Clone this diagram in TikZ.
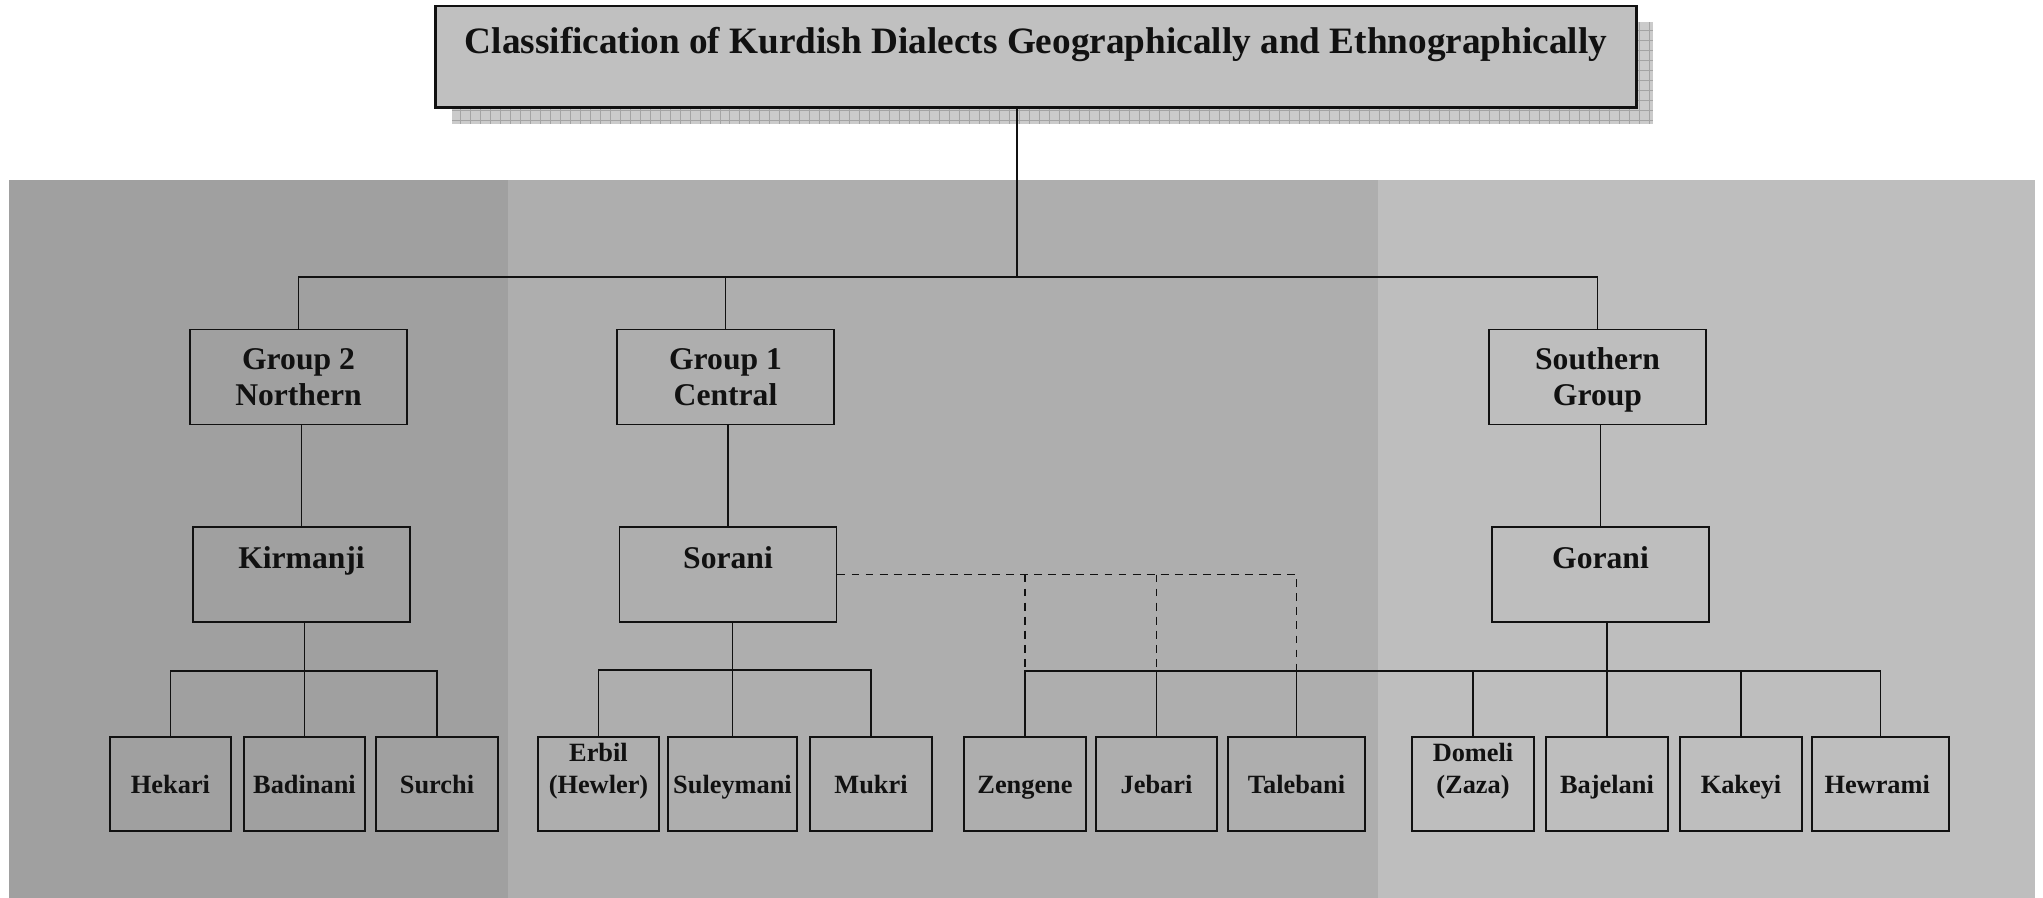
\documentclass[tikz,border=0pt]{standalone}
\usepackage{fontspec}
\setmainfont{Liberation Serif}
\usepackage{xcolor}
\usepackage{tikz}
\usetikzlibrary{positioning}
\definecolor{bandN}{HTML}{A0A0A0}
\definecolor{bandC}{HTML}{AEAEAE}
\definecolor{bandS}{HTML}{BEBEBE}
\definecolor{titlegray}{HTML}{C0C0C0}
\definecolor{shadegray}{HTML}{CBCBCB}
\definecolor{shadeline}{HTML}{A4A4A4}
\definecolor{ink}{HTML}{111111}
\newcommand{\TitleFont}{\bfseries\fontsize{21.2}{25}\selectfont}
\newcommand{\GroupFont}{\bfseries\fontsize{18}{20.5}\selectfont}
\newcommand{\DialFont}{\bfseries\fontsize{15}{18}\selectfont}
\tikzset{
  every node/.style={text=ink},
  wire/.style={draw=ink, line width=1.1pt},
  wiredash/.style={draw=ink, line width=1.1pt, dash pattern=on 4.5pt off 3.5pt},
  titlebox/.style={
    rectangle, draw=ink, line width=1.7pt, fill=titlegray,
    minimum width=24.04cm, minimum height=2.04cm, inner sep=0pt,
    font=\TitleFont, text depth=0.66cm
  },
  groupbox/.style={
    rectangle, draw=ink, line width=1.1pt, align=center,
    minimum width=4.34cm, minimum height=1.9cm, inner sep=0pt,
    font=\GroupFont
  },
  dialectbox/.style={
    rectangle, draw=ink, line width=1.1pt, align=center,
    minimum height=1.88cm, inner sep=0pt, font=\DialFont
  },
  oneline/.style={text height=0.38cm, text depth=0cm}
}

\begin{document}
\begin{tikzpicture}[x=0.02cm,y=-0.02cm]
\useasboundingbox (0,0) rectangle (2043,898);
\fill[white] (0,0) rectangle (2043,898);

% =========================
% BACKGROUND BANDS
% =========================
\fill[bandN] (9,180)    rectangle (508,898);
\fill[bandC] (508,180)  rectangle (1378,898);
\fill[bandS] (1378,180) rectangle (2035,898);

% =========================
% TITLE (with grid shadow)
% =========================
\begin{scope}
  \clip (452,22) rectangle (1653,124);
  \fill[shadegray] (452,22) rectangle (1653,124);
  \draw[shadeline, line width=0.4pt, step=0.2cm] (452,22) grid (1653,124);
\end{scope}
\node[titlebox] (title) at (1036,57)
  {Classification of Kurdish Dialects Geographically and Ethnographically};

% =========================
% GROUPS + MAIN DIALECTS
% =========================
\node[groupbox] (grpN) at (298.5,377)  {Group 2\\Northern};
\node[groupbox] (grpC) at (725.5,377)  {Group 1\\Central};
\node[groupbox, text depth=0pt] (grpS) at (1597.5,377) {Southern\\Group};

\node[groupbox, text depth=0.69cm] (kir) at (301.5,574.5)  {Kirmanji};
\node[groupbox, text depth=0.69cm] (sor) at (728,574.5)    {Sorani};
\node[groupbox, text depth=0.69cm] (gor) at (1600.5,574.5) {Gorani};

% =========================
% SUB-DIALECTS (bottom row)
% =========================
\foreach \nm/\xc/\bw/\txt in {
  hek/170.5/2.42/Hekari,
  bad/304.5/2.42/Badinani,
  sur/437/2.44/Surchi,
  sul/732.5/2.58/Suleymani,
  muk/871/2.44/Mukri,
  zen/1025/2.44/Zengene,
  jeb/1156.5/2.42/Jebari,
  tal/1296.5/2.74/Talebani,
  baj/1607/2.44/Bajelani,
  kak/1741/2.44/Kakeyi,
  hew/1880.5/2.74/Hewrami
}{
  \node[dialectbox, oneline, minimum width=\bw cm] (\nm) at (\xc,784) {\txt};
}
% two-line names sit at the top of their box
\node[dialectbox, minimum width=2.42cm] (erb) at (598.5,784) {Erbil\\(Hewler)\\\mbox{}};
\node[dialectbox, minimum width=2.44cm] (dom) at (1473,784)  {Domeli\\(Zaza)\\\mbox{}};

% =========================
% CONNECTORS
% =========================
\coordinate (topbus) at (1017,277);
\draw[wire] (title.south -| topbus) -- (topbus);
\draw[wire] (grpN.north) -- (grpN.north |- topbus) -- (grpS.north |- topbus) -- (grpS.north);
\draw[wire] (grpC.north) -- (grpC.north |- topbus);

\draw[wire] (kir.north) -- (kir.north |- grpN.south);
\draw[wire] (sor.north) -- (sor.north |- grpC.south);
\draw[wire] (gor.north) -- (gor.north |- grpS.south);

% Kirmanji branch
\path (kir.south) ++(0,48) coordinate (kirbus);
\draw[wire] (kir.south -| bad.north) -- (bad.north);
\draw[wire] (hek.north) -- (hek.north |- kirbus) -- (sur.north |- kirbus) -- (sur.north);

% Sorani branch
\path (sor.south) ++(0,47) coordinate (sorbus);
\draw[wire] (sor.south -| sul.north) -- (sul.north);
\draw[wire] (erb.north) -- (erb.north |- sorbus) -- (muk.north |- sorbus) -- (muk.north);

% Gorani branch
\path (gor.south) ++(0,48) coordinate (gorbus);
\draw[wire] (gor.south -| baj.north) -- (baj.north);
\draw[wire] (zen.north) -- (zen.north |- gorbus) -- (hew.north |- gorbus) -- (hew.north);
\foreach \nm in {jeb,tal,dom,kak}{
  \draw[wire] (\nm.north) -- (\nm.north |- gorbus);
}

% Sorani link (dashed)
\draw[wiredash] (sor.east) -| (tal.north |- gorbus);
\draw[wiredash] (zen.north |- sor.east) -- (zen.north |- gorbus);
\draw[wiredash] (jeb.north |- sor.east) -- (jeb.north |- gorbus);

\end{tikzpicture}
\end{document}
